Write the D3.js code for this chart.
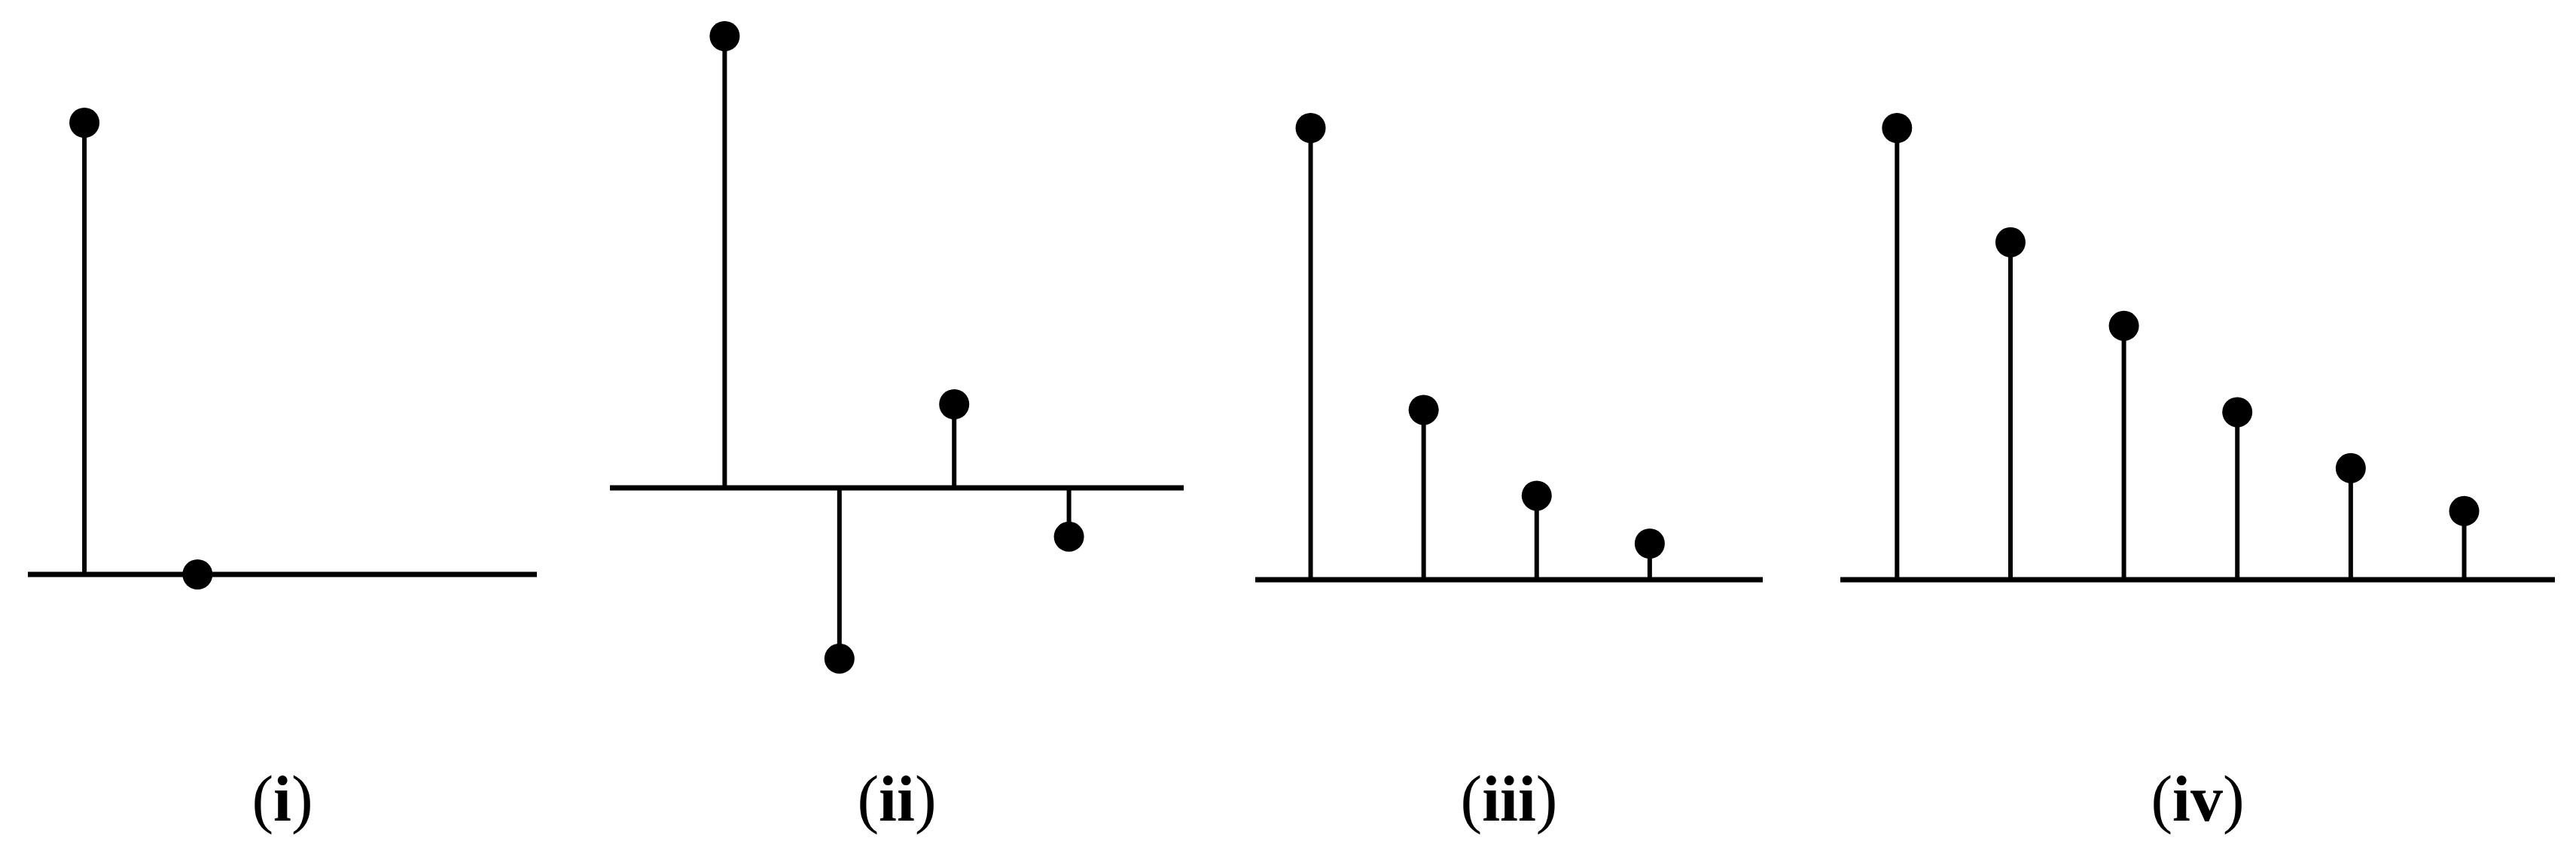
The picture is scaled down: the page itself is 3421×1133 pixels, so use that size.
<!DOCTYPE html>
<html>
<head>
<meta charset="utf-8">
<script src="https://d3js.org/d3.v7.min.js"></script>
<style>
  body { margin: 0; background: #fff; }
  .label { font-family: "Liberation Serif", "DejaVu Serif", serif; }
</style>
</head>
<body>
<script>
// sample values for each stem plot (index n = 0, 1, 2, ...)
var valuesI   = [1, 0];
var valuesII  = [1, -0.378, 0.185, -0.108];
var valuesIII = [1, 0.376, 0.186, 0.080];
var valuesIV  = [1, 0.747, 0.562, 0.371, 0.247, 0.152];

var panelLabels = ["i", "ii", "iii", "iv"];

var W = 3421, H = 1133;
var stemHeight = 600;
var dotR = 20;

// layout for each panel: axis extent in px, index domain, baseline
var panels = [
  {values: valuesI,   x0: 37,   x1: 713,  dom: [-0.5, 4],   base: 763},
  {values: valuesII,  x0: 810,  x1: 1572, dom: [-1, 4],     base: 648},
  {values: valuesIII, x0: 1667, x1: 2341, dom: [-0.49, 4],  base: 770},
  {values: valuesIV,  x0: 2444, x1: 3393, dom: [-0.5, 5.8], base: 770}
];

var svg = d3.select("body")
  .append("svg")
    .attr("width", W)
    .attr("height", H);

panels.forEach(function(p, k) {
  var x = d3.scaleLinear().domain(p.dom).range([p.x0, p.x1]);
  var y = d3.scaleLinear().domain([0, 1]).range([p.base, p.base - stemHeight]);

  var g = svg.append("g").attr("class", "panel");

  // baseline
  g.append("line")
    .attr("x1", x(p.dom[0]))
    .attr("x2", x(p.dom[1]))
    .attr("y1", y(0))
    .attr("y2", y(0))
    .attr("stroke", "#000")
    .attr("stroke-width", 7);

  // stems
  g.selectAll("line.stem")
    .data(p.values)
    .enter()
      .append("line")
        .attr("class", "stem")
        .attr("x1", function(d, i) { return x(i); })
        .attr("x2", function(d, i) { return x(i); })
        .attr("y1", y(0))
        .attr("y2", function(d) { return y(d); })
        .attr("stroke", "#000")
        .attr("stroke-width", 6);

  // dots
  g.selectAll("circle")
    .data(p.values)
    .enter()
      .append("circle")
        .attr("cx", function(d, i) { return x(i); })
        .attr("cy", function(d) { return y(d); })
        .attr("r", dotR)
        .attr("fill", "#000");

  // panel label, roman numeral in bold
  var t = g.append("text")
    .attr("class", "label")
    .attr("x", (p.x0 + p.x1) / 2)
    .attr("y", 1090)
    .attr("text-anchor", "middle")
    .attr("font-size", 86)
    .attr("fill", "#000");
  t.append("tspan").text("(");
  t.append("tspan").attr("font-weight", "bold").text(panelLabels[k]);
  t.append("tspan").text(")");
});
</script>
</body>
</html>
